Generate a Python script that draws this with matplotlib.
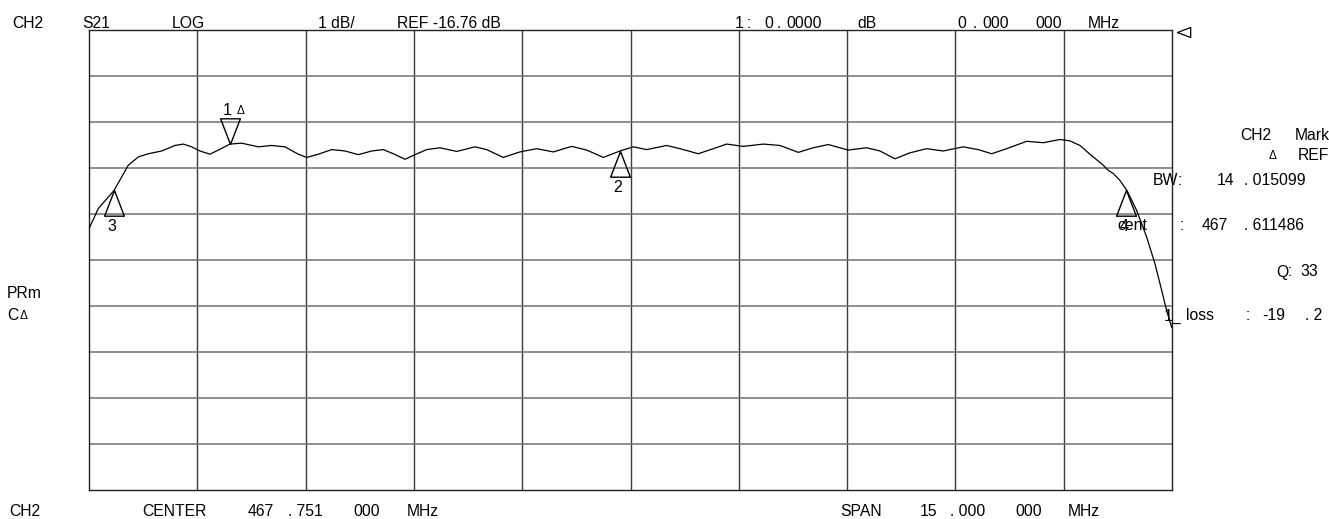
import numpy as np
import matplotlib
matplotlib.use("Agg")
import matplotlib.pyplot as plt
from matplotlib import transforms

plt.rcParams["font.family"] = ["Liberation Sans", "DejaVu Sans"]

# instrument setup
center_mhz = 467.751
span_mhz = 15.0
ref_db = -16.76
db_per_div = 1.0
n_div = 10

# S21 trace (MHz, dB)
freq_mhz = [460.251, 460.380, 460.597, 460.795, 460.934, 461.072, 461.258, 461.442,
            461.557, 461.673, 461.788, 461.926, 462.042, 462.204, 462.366, 462.596,
            462.781, 462.966, 463.150, 463.266, 463.427, 463.612, 463.797, 463.981,
            464.166, 464.327, 464.466, 464.628, 464.766, 464.928, 465.112, 465.344,
            465.597, 465.759, 465.989, 466.220, 466.452, 466.682, 466.936, 467.144,
            467.374, 467.605, 467.790, 467.975, 468.252, 468.436, 468.690, 468.898,
            469.083, 469.313, 469.590, 469.821, 470.075, 470.283, 470.490, 470.767,
            471.022, 471.206, 471.414, 471.622, 471.853, 472.083, 472.360, 472.568,
            472.753, 472.961, 473.238, 473.468, 473.699, 473.838, 473.976, 474.115,
            474.299, 474.368, 474.438, 474.530, 474.631, 474.761, 474.900, 475.015,
            475.108, 475.177, 475.246]
s21_db = [-21.08, -20.64, -20.25, -19.70, -19.52, -19.45, -19.39, -19.27,
          -19.24, -19.30, -19.39, -19.46, -19.37, -19.24, -19.22, -19.30,
          -19.27, -19.30, -19.46, -19.53, -19.46, -19.36, -19.39, -19.47,
          -19.39, -19.36, -19.45, -19.57, -19.47, -19.36, -19.32, -19.40,
          -19.30, -19.36, -19.53, -19.41, -19.34, -19.41, -19.29, -19.37,
          -19.53, -19.39, -19.30, -19.36, -19.27, -19.34, -19.45, -19.34,
          -19.24, -19.29, -19.24, -19.27, -19.42, -19.32, -19.25, -19.37,
          -19.32, -19.39, -19.56, -19.43, -19.34, -19.39, -19.30, -19.36,
          -19.45, -19.34, -19.18, -19.21, -19.14, -19.17, -19.27, -19.46,
          -19.70, -19.81, -19.88, -20.03, -20.26, -20.68, -21.26, -21.84,
          -22.42, -22.86, -23.22]

# markers
marker_ids = ["1", "2", "3", "4"]
marker_freq = [462.204, 467.611486, 460.603937, 474.619035]
marker_down = [True, False, False, False]

# annotation text: (text, x px, baseline y px, fontsize)
top_texts = [("CH2", 12, 27.5), ("S21", 82, 27.5), ("LOG", 172, 27.5),
             ("1 dB/", 318, 27.5), ("REF -16.76 dB", 397, 27.5),
             ("1", 735, 27.5), (":", 747, 27.5), ("0", 764, 27.5), (".", 777, 27.5),
             ("0000", 786, 27.5), ("dB", 857, 27.5),
             ("0", 957, 27.5), (".", 973, 27.5), ("000", 982, 27.5),
             ("000", 1035, 27.5), ("MHz", 1088, 27.5)]
bottom_texts = [("CH2", 9, 516), ("CENTER", 142, 516), ("467", 248, 516),
                (". 751", 288, 516), ("000", 353, 516), ("MHz", 407, 516),
                ("SPAN", 840, 516), ("15", 920, 516), (". 000", 950, 516),
                ("000", 1015, 516), ("MHz", 1068, 516)]
side_texts = [("PRm", 7, 298), ("CH2", 1240, 140.5), ("Mark", 1295, 140.5),
              ("REF", 1298, 160), ("BW", 1153, 185), (":", 1178, 185),
              ("14", 1217, 185), (". 015099", 1244, 185),
              ("cent", 1117, 230), (":", 1180, 230), ("467", 1202, 230),
              (". 611486", 1244, 230), ("Q", 1276, 276.5), (":", 1288, 276.5),
              ("33", 1300, 276.5), ("1_", 1164, 320.5), ("loss", 1186, 320.5),
              (":", 1246, 320.5), ("-19", 1262, 320.5), (". 2", 1305, 320.5)]
delta_texts = [("Δ", 1269, 159), ("Δ", 20, 319), ("Δ", 237, 114)]

W, H = 1329, 519
fig = plt.figure(figsize=(W / 100, H / 100), dpi=100)
fig.patch.set_facecolor("white")
ax = fig.add_axes([89 / W, 1 - 490 / H, (1172 - 89) / W, 460 / H])

f_lo = center_mhz - span_mhz / 2
f_hi = center_mhz + span_mhz / 2
y_hi = ref_db
y_lo = ref_db - n_div * db_per_div
ax.set_xlim(f_lo, f_hi)
ax.set_ylim(y_lo, y_hi)

for f in np.linspace(f_lo, f_hi, n_div + 1)[1:-1]:
    ax.axvline(f, color="#3a3a3a", lw=1.0, zorder=1)
for y in np.linspace(y_lo, y_hi, n_div + 1)[1:-1]:
    ax.axhline(y, color="#707070", lw=1.1, zorder=1)
ax.set_xticks([]); ax.set_yticks([])
for s in ax.spines.values():
    s.set_color("#222222"); s.set_linewidth(1.0)

ax.plot(freq_mhz, s21_db, color="black", lw=0.9, zorder=3)

# marker triangles with the tip on the trace
up_tri = [(0, 0), (-0.385, -1), (0.385, -1), (0, 0)]
dn_tri = [(0, 0), (-0.385, 1), (0.385, 1), (0, 0)]
marker_db = np.interp(marker_freq, freq_mhz, s21_db)
for mid, mf, md, down in zip(marker_ids, marker_freq, marker_db, marker_down):
    ax.plot([mf], [md], marker=dn_tri if down else up_tri, ms=37, mfc="none",
            mec="black", mew=1.0, zorder=4, clip_on=False)
    if down:
        ax.annotate(mid, (mf, md), xytext=(-3, 34), textcoords="offset pixels",
                    ha="center", va="center", fontsize=11.5)
    else:
        ax.annotate(mid, (mf, md), xytext=(-2.5, -37), textcoords="offset pixels",
                    ha="center", va="center", fontsize=11.5)

# reference position arrow at the right edge
off = transforms.offset_copy(ax.transData, fig=fig, x=5, y=-2, units="dots")
ax.plot([f_hi], [y_hi], marker=[(0, 0), (1, 0.38), (1, -0.38), (0, 0)], ms=19,
        mfc="white", mec="black", mew=0.9, transform=off, clip_on=False, zorder=5)

for txt, x, y in top_texts + bottom_texts + side_texts:
    fig.text(x / W, 1 - y / H, txt, fontsize=11.3, ha="left", va="baseline")
fig.text(7 / W, 1 - 319.5 / H, "C", fontsize=11.3, ha="left", va="baseline")
for txt, x, y in delta_texts:
    fig.text(x / W, 1 - y / H, txt, fontsize=8.5, ha="left", va="baseline")

fig.savefig("out.png", dpi=100)
